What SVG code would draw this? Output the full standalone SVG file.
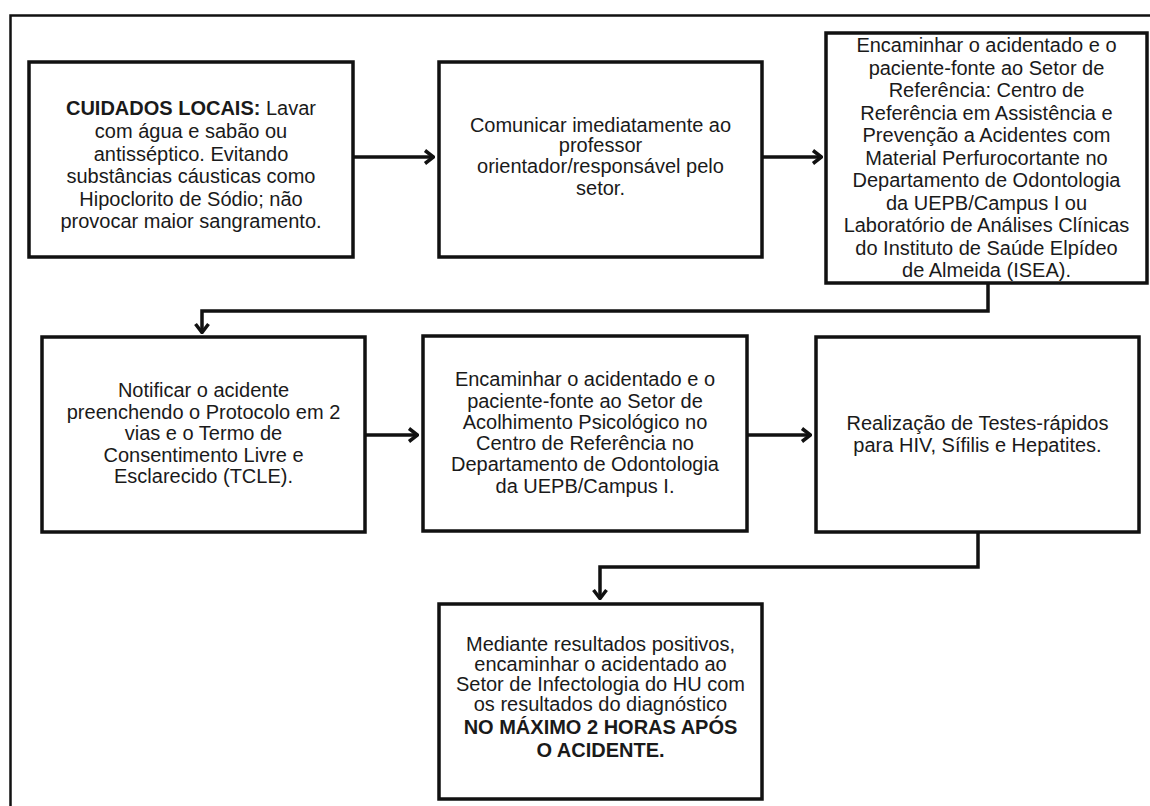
<svg xmlns="http://www.w3.org/2000/svg" width="1150" height="806" viewBox="0 0 1150 806">
<defs>
<style>
.box{fill:#fff;stroke:#111;stroke-width:3.5}
.t{font-family:"Liberation Sans",Arial,sans-serif;font-size:20px;fill:#1a1a1a;text-anchor:middle}
.b{font-weight:bold}
.c{fill:none;stroke:#111;stroke-width:3.5}
.frame{fill:none;stroke:#111;stroke-width:2.5}
</style>
<marker id="arr" viewBox="0 0 12 16" refX="11" refY="8" markerWidth="12" markerHeight="16" markerUnits="userSpaceOnUse" orient="auto">
<path d="M2,1.5 L10.5,8 L2,14.5" fill="none" stroke="#111" stroke-width="3.5"/>
</marker>
</defs>
<rect width="1150" height="806" fill="#fff"/>
<path class="frame" d="M10.5,806 V15.5 H1150"/>
<g id="connectors">
<line class="c" x1="353" y1="157" x2="434" y2="157" marker-end="url(#arr)"/>
<line class="c" x1="762" y1="157" x2="822" y2="157" marker-end="url(#arr)"/>
<path class="c" d="M988,283 V311 H202 V333" marker-end="url(#arr)"/>
<line class="c" x1="365" y1="435" x2="418" y2="435" marker-end="url(#arr)"/>
<line class="c" x1="747" y1="435" x2="811" y2="435" marker-end="url(#arr)"/>
<path class="c" d="M978,532 V567 H600 V599" marker-end="url(#arr)"/>
</g>
<g id="node1">
<rect class="box" x="29" y="62" width="324" height="195"/>
<text class="t"><tspan x="191" y="115"><tspan class="b">CUIDADOS LOCAIS:</tspan> Lavar</tspan><tspan x="191" y="138">com água e sabão ou</tspan><tspan x="191" y="161">antisséptico. Evitando</tspan><tspan x="191" y="183">substâncias cáusticas como</tspan><tspan x="191" y="206">Hipoclorito de Sódio; não</tspan><tspan x="191" y="228">provocar maior sangramento.</tspan></text>
</g>
<g id="node2">
<rect class="box" x="439" y="62" width="323" height="195"/>
<text class="t"><tspan x="600.5" y="132">Comunicar imediatamente ao</tspan><tspan x="600.5" y="152">professor</tspan><tspan x="600.5" y="173">orientador/responsável pelo</tspan><tspan x="600.5" y="195">setor.</tspan></text>
</g>
<g id="node3">
<rect class="box" x="826" y="33" width="321" height="250"/>
<text class="t"><tspan x="986.5" y="52">Encaminhar o acidentado e o</tspan><tspan x="986.5" y="74.5">paciente-fonte ao Setor de</tspan><tspan x="986.5" y="97">Referência: Centro de</tspan><tspan x="986.5" y="119.5">Referência em Assistência e</tspan><tspan x="986.5" y="142">Prevenção a Acidentes com</tspan><tspan x="986.5" y="164.5">Material Perfurocortante no</tspan><tspan x="986.5" y="187">Departamento de Odontologia</tspan><tspan x="986.5" y="209.5">da UEPB/Campus I ou</tspan><tspan x="986.5" y="232">Laboratório de Análises Clínicas</tspan><tspan x="986.5" y="254.5">do Instituto de Saúde Elpídeo</tspan><tspan x="986.5" y="277">de Almeida (ISEA).</tspan></text>
</g>
<g id="node4">
<rect class="box" x="42" y="337" width="323" height="195"/>
<text class="t"><tspan x="203.5" y="397">Notificar o acidente</tspan><tspan x="203.5" y="418.5">preenchendo o Protocolo em 2</tspan><tspan x="203.5" y="440">vias e o Termo de</tspan><tspan x="203.5" y="461.5">Consentimento Livre e</tspan><tspan x="203.5" y="483">Esclarecido (TCLE).</tspan></text>
</g>
<g id="node5">
<rect class="box" x="423" y="336" width="324" height="195"/>
<text class="t"><tspan x="585" y="386">Encaminhar o acidentado e o</tspan><tspan x="585" y="407.5">paciente-fonte ao Setor de</tspan><tspan x="585" y="429">Acolhimento Psicológico no</tspan><tspan x="585" y="450">Centro de Referência no</tspan><tspan x="585" y="471">Departamento de Odontologia</tspan><tspan x="585" y="493">da UEPB/Campus I.</tspan></text>
</g>
<g id="node6">
<rect class="box" x="816" y="337" width="323" height="195"/>
<text class="t"><tspan x="977.5" y="430">Realização de Testes-rápidos</tspan><tspan x="977.5" y="452">para HIV, Sífilis e Hepatites.</tspan></text>
</g>
<g id="node7">
<rect class="box" x="439" y="604" width="323" height="195"/>
<text class="t"><tspan x="600.5" y="651">Mediante resultados positivos,</tspan><tspan x="600.5" y="671">encaminhar o acidentado ao</tspan><tspan x="600.5" y="691">Setor de Infectologia do HU com</tspan><tspan x="600.5" y="711">os resultados do diagnóstico</tspan><tspan class="b" x="600.5" y="734">NO MÁXIMO 2 HORAS APÓS</tspan><tspan class="b" x="600.5" y="757">O ACIDENTE.</tspan></text>
</g>
</svg>
